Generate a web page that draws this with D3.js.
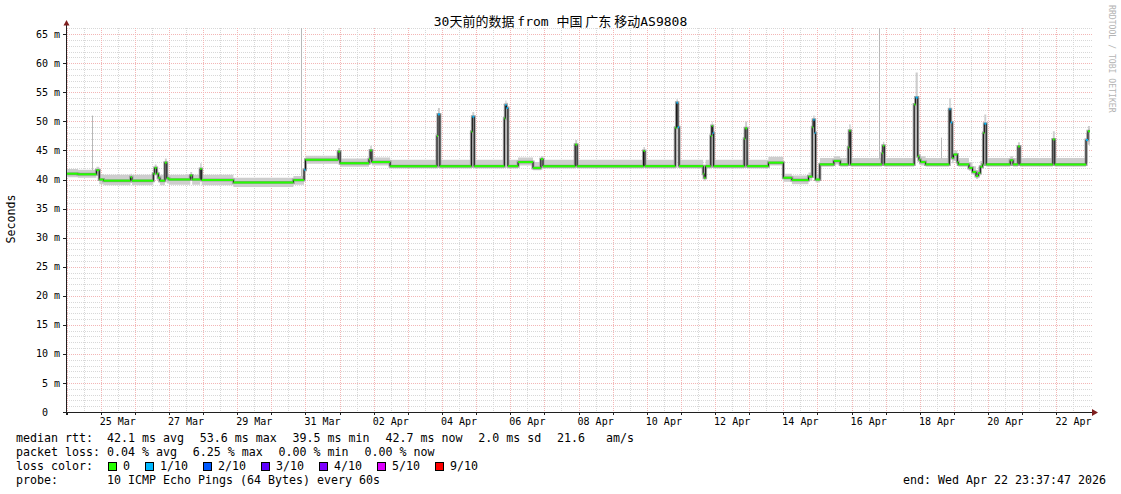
<!DOCTYPE html>
<html>
<head>
<meta charset="utf-8">
<script src="https://cdn.jsdelivr.net/npm/d3@7"></script>
<style>
body { margin: 0; background: #fff; }
text { font-family: "DejaVu Sans Mono", "Noto Sans CJK SC", monospace; white-space: pre; }
</style>
</head>
<body>
<div id="container"></div>
<script>
// --- Data ---
// median rtt rows: [time, median ms, smoke low ms, smoke high ms, lost pings of 10]
var rtt = [
    ["03-23 23:37", 41.0, 40.4, 41.8, 0],
    ["03-24 08:00", 40.9, 40.3, 41.7, 0],
    ["03-24 21:00", 41.6, 40.9, 42.2, 0],
    ["03-24 23:00", 40.0, 39.2, 40.9, 0],
    ["03-25 02:00", 39.8, 39.0, 40.8, 0],
    ["03-25 21:00", 40.4, 39.4, 41.0, 0],
    ["03-25 22:00", 39.8, 39.0, 40.8, 0],
    ["03-26 13:00", 41.0, 40.0, 41.8, 0],
    ["03-26 14:00", 42.0, 41.0, 42.6, 0],
    ["03-26 15:20", 41.0, 40.0, 41.6, 0],
    ["03-26 16:30", 40.3, 39.5, 41.0, 0],
    ["03-26 17:40", 39.8, 39.0, 40.8, 0],
    ["03-26 21:10", 42.9, 40.5, 43.6, 0],
    ["03-26 22:30", 40.2, 39.3, 41.0, 0],
    ["03-27 00:00", 40.0, 39.1, 40.8, 0],
    ["03-27 15:00", 40.7, 39.8, 41.3, 0],
    ["03-27 16:20", 40.0, 39.1, 40.8, 0],
    ["03-27 22:00", 41.8, 40.3, 42.8, 0],
    ["03-27 23:00", 39.9, 39.0, 40.8, 0],
    ["03-28 21:20", 39.5, 38.7, 40.3, 0],
    ["03-30 15:30", 39.9, 39.1, 40.6, 0],
    ["03-30 23:00", 41.7, 40.0, 42.5, 1],
    ["03-31 00:00", 43.4, 42.7, 44.1, 0],
    ["03-31 23:00", 44.8, 43.2, 45.4, 0],
    ["04-01 00:20", 42.8, 42.2, 43.6, 0],
    ["04-01 20:40", 43.5, 42.6, 44.2, 0],
    ["04-01 21:30", 45.0, 43.5, 45.8, 0],
    ["04-01 22:40", 43.0, 42.4, 43.8, 0],
    ["04-02 11:30", 42.3, 41.9, 43.4, 0],
    ["04-03 20:30", 47.5, 42.5, 48.5, 0],
    ["04-03 21:10", 51.2, 47.0, 52.3, 1],
    ["04-03 22:30", 42.3, 41.9, 43.4, 0],
    ["04-04 20:40", 48.2, 43.0, 49.0, 0],
    ["04-04 21:20", 50.8, 47.5, 51.6, 1],
    ["04-04 22:40", 42.3, 41.9, 43.4, 0],
    ["04-05 19:50", 50.5, 44.0, 51.5, 0],
    ["04-05 20:30", 52.8, 50.0, 53.6, 1],
    ["04-05 21:20", 52.3, 46.0, 53.2, 1],
    ["04-05 22:20", 42.3, 41.9, 43.4, 0],
    ["04-06 05:30", 43.0, 42.4, 43.8, 0],
    ["04-06 16:00", 42.0, 41.6, 43.0, 0],
    ["04-06 21:30", 43.5, 42.4, 44.0, 0],
    ["04-06 23:00", 42.3, 41.9, 43.4, 0],
    ["04-07 21:40", 46.0, 42.5, 46.8, 0],
    ["04-07 23:00", 42.3, 41.9, 43.4, 0],
    ["04-09 21:40", 44.9, 42.5, 45.6, 0],
    ["04-09 22:40", 42.3, 41.9, 43.4, 0],
    ["04-10 20:00", 48.9, 43.0, 50.0, 0],
    ["04-10 20:50", 53.2, 50.5, 53.8, 1],
    ["04-10 21:50", 49.0, 45.0, 50.5, 1],
    ["04-10 22:40", 42.3, 41.9, 43.4, 0],
    ["04-11 15:40", 41.0, 40.5, 42.5, 0],
    ["04-11 16:20", 40.3, 39.8, 41.5, 0],
    ["04-11 17:20", 42.3, 41.9, 43.4, 0],
    ["04-11 21:00", 47.5, 42.5, 48.5, 0],
    ["04-11 21:40", 49.2, 47.0, 50.0, 0],
    ["04-11 22:20", 48.0, 44.0, 49.0, 1],
    ["04-11 23:00", 42.3, 41.9, 43.4, 0],
    ["04-12 20:30", 47.0, 42.5, 48.0, 0],
    ["04-12 21:10", 48.8, 46.0, 50.0, 0],
    ["04-12 22:30", 42.3, 41.9, 43.4, 0],
    ["04-13 13:30", 42.9, 42.4, 43.9, 0],
    ["04-14 00:00", 40.3, 39.6, 41.0, 0],
    ["04-14 06:00", 39.9, 39.2, 40.7, 0],
    ["04-14 17:40", 40.5, 39.8, 41.2, 0],
    ["04-14 20:20", 49.0, 41.0, 50.0, 0],
    ["04-14 21:00", 50.3, 48.0, 51.0, 1],
    ["04-14 22:00", 48.0, 44.0, 49.0, 1],
    ["04-14 22:40", 40.0, 39.5, 41.0, 0],
    ["04-15 01:40", 42.6, 42.2, 43.7, 0],
    ["04-15 11:30", 43.2, 42.6, 44.0, 0],
    ["04-15 16:00", 42.6, 42.2, 43.7, 0],
    ["04-15 21:40", 45.5, 42.6, 46.5, 0],
    ["04-15 22:20", 48.4, 45.5, 49.5, 0],
    ["04-15 23:20", 42.6, 42.2, 43.7, 0],
    ["04-16 21:20", 44.5, 42.6, 45.5, 0],
    ["04-16 22:00", 45.8, 44.0, 46.5, 0],
    ["04-16 23:00", 42.6, 42.2, 43.7, 0],
    ["04-17 20:00", 52.9, 43.0, 54.0, 0],
    ["04-17 21:00", 54.1, 52.0, 58.4, 1],
    ["04-17 22:30", 44.0, 43.0, 45.0, 0],
    ["04-17 23:20", 43.4, 42.6, 44.4, 0],
    ["04-18 00:30", 43.0, 42.4, 44.0, 0],
    ["04-18 04:00", 42.6, 42.2, 43.7, 0],
    ["04-18 20:40", 52.1, 43.0, 54.0, 1],
    ["04-18 21:40", 49.8, 46.0, 51.0, 1],
    ["04-18 22:40", 43.7, 42.8, 44.5, 0],
    ["04-18 23:40", 44.3, 43.2, 45.0, 0],
    ["04-19 02:20", 43.0, 42.4, 43.9, 0],
    ["04-19 03:00", 42.6, 42.2, 43.7, 0],
    ["04-19 10:30", 42.0, 41.5, 43.0, 0],
    ["04-19 13:00", 41.3, 40.8, 42.3, 0],
    ["04-19 15:30", 40.6, 40.1, 41.6, 0],
    ["04-19 17:00", 41.1, 40.6, 42.2, 0],
    ["04-19 18:30", 42.2, 41.8, 43.2, 0],
    ["04-19 20:00", 42.6, 42.2, 43.7, 0],
    ["04-19 20:40", 48.0, 42.6, 49.0, 0],
    ["04-19 21:20", 49.6, 47.0, 51.2, 1],
    ["04-19 22:40", 42.6, 42.2, 43.7, 0],
    ["04-20 15:30", 43.3, 42.6, 44.0, 0],
    ["04-20 17:30", 42.6, 42.2, 43.7, 0],
    ["04-20 21:00", 45.7, 42.6, 46.4, 0],
    ["04-20 22:20", 42.6, 42.2, 43.7, 0],
    ["04-21 21:30", 46.9, 42.6, 48.3, 0],
    ["04-21 22:50", 42.6, 42.2, 43.7, 0],
    ["04-22 20:50", 46.8, 43.0, 48.0, 1],
    ["04-22 22:10", 48.3, 46.0, 49.2, 0],
    ["04-22 23:37", 48.3, 46.0, 49.2, 0]
];

// lone smoke outliers: [time, from ms, to ms]
var smokeSpikes = [
    ["03-24 17:50", 41.6, 51.0],
    ["03-30 20:30", 40.5, 70.0],
    ["04-16 19:00", 43.5, 70.0],
    ["04-18 14:50", 43.6, 47.2]
];

var yTicks = [0, 5, 10, 15, 20, 25, 30, 35, 40, 45, 50, 55, 60, 65];

var rttLegend = ["42.1 ms avg", "53.6 ms max", "39.5 ms min", "42.7 ms now", "2.0 ms sd", "21.6   am/s"];
var lossLegend = ["0.04 % avg", "6.25 % max", "0.00 % min", "0.00 % now"];
var lossColors = [
    ["0", "#26ff00"], ["1/10", "#00b8ff"], ["2/10", "#0059ff"], ["3/10", "#5e00ff"],
    ["4/10", "#7e00ff"], ["5/10", "#dd00ff"], ["9/10", "#ff0000"]
];
var probeText = "10 ICMP Echo Pings (64 Bytes) every 60s";
var endText = "end: Wed Apr 22 23:37:47 2026";

// SVG
var svg_width = 1121
var svg_height = 494

var svg = d3.select("#container")
    .append("svg")
    .attr("width", svg_width)
    .attr("height", svg_height)
    .style("display", "block")

var plotLeft = 66, plotRight = 1090, gridRight = 1093, plotTop = 28, plotBottom = 412;

var parseTime = function(s){ return d3.utcParse("%Y-%m-%d %H:%M")("2026-" + s); };
var startTime = parseTime("03-23 23:37");
var endTime = parseTime("04-22 23:37");

var x = d3.scaleUtc().domain([startTime, endTime]).range([plotLeft, plotRight]);
var y = d3.scaleLinear().domain([0, 65]).range([412, 34.2]);

var rows = rtt.map(function(r){
    return {t: parseTime(r[0]), med: r[1], lo: r[2], hi: r[3], loss: r[4]};
});

svg.append("defs").append("clipPath").attr("id", "plotclip")
    .append("rect")
    .attr("x", plotLeft).attr("y", plotTop)
    .attr("width", plotRight - plotLeft).attr("height", plotBottom - plotTop);

// --- Grid ---
var grid = svg.append("g").attr("shape-rendering", "crispEdges");
var minorColor = "#d8d8d8", majorColor = "#f3b6b6";

// horizontal, 1 ms minor and 5 ms major
d3.range(1, 67).forEach(function(v){
    var yy = Math.round(y(v)) + 0.5;
    grid.append("line")
        .attr("x1", 67).attr("x2", gridRight)
        .attr("y1", yy).attr("y2", yy)
        .attr("stroke", v % 5 == 0 ? majorColor : minorColor)
        .attr("stroke-dasharray", "1,1");
});

// vertical, noon minor and midnight major
d3.utcHour.every(12).range(startTime, endTime).forEach(function(t){
    var xx = Math.round(x(t)) + 0.5;
    if (xx < 67) return;
    grid.append("line")
        .attr("x1", xx).attr("x2", xx)
        .attr("y1", plotTop).attr("y2", plotBottom)
        .attr("stroke", t.getUTCHours() == 0 ? majorColor : minorColor)
        .attr("stroke-dasharray", "1,1");
});

// --- Smoke and median ---
var plot = svg.append("g").attr("clip-path", "url(#plotclip)");

plot.append("path")
    .datum(rows)
    .attr("d", d3.area().curve(d3.curveStepAfter)
        .x(function(d){ return x(d.t); })
        .y0(function(d){ return y(d.lo); })
        .y1(function(d){ return y(d.hi); }))
    .attr("fill", "#cdcdcd");

plot.selectAll(".spike")
    .data(smokeSpikes)
    .enter()
    .append("line")
    .attr("x1", function(d){ return Math.round(x(parseTime(d[0]))) + 0.5; })
    .attr("x2", function(d){ return Math.round(x(parseTime(d[0]))) + 0.5; })
    .attr("y1", function(d){ return y(d[1]); })
    .attr("y2", function(d){ return y(d[2]); })
    .attr("stroke", "#b8b8b8")
    .attr("stroke-width", 1);

var medianLine = d3.line().curve(d3.curveStepAfter)
    .x(function(d){ return x(d.t); })
    .y(function(d){ return y(d.med); });

// darker smoke close to the median
plot.append("path")
    .datum(rows)
    .attr("d", medianLine)
    .attr("fill", "none")
    .attr("stroke", "#a0a0a0")
    .attr("stroke-width", 3);

plot.append("path")
    .datum(rows)
    .attr("d", medianLine)
    .attr("fill", "none")
    .attr("stroke", "#111")
    .attr("stroke-width", 1);

// loss coloured median steps
plot.selectAll(".seg")
    .data(rows.slice(0, -1))
    .enter()
    .append("line")
    .attr("x1", function(d){ return x(d.t); })
    .attr("x2", function(d, i){ return x(rows[i + 1].t); })
    .attr("y1", function(d){ return y(d.med); })
    .attr("y2", function(d){ return y(d.med); })
    .attr("stroke", function(d){ return lossColors[d.loss][1]; })
    .attr("stroke-width", 2);

// --- Axes ---
var axes = svg.append("g").attr("shape-rendering", "crispEdges");

axes.append("line")
    .attr("x1", 63).attr("x2", 1093)
    .attr("y1", 412.5).attr("y2", 412.5)
    .attr("stroke", "#202020");
axes.append("line")
    .attr("x1", 66.5).attr("x2", 66.5)
    .attr("y1", 415).attr("y2", 25)
    .attr("stroke", "#202020");

yTicks.forEach(function(v){
    var yy = Math.round(y(v)) + 0.5;
    axes.append("line")
        .attr("x1", 63).attr("x2", 66)
        .attr("y1", yy).attr("y2", yy)
        .attr("stroke", "#202020");
});

d3.utcDay.range(startTime, endTime).forEach(function(t){
    var xx = Math.round(x(t)) + 0.5;
    axes.append("line")
        .attr("x1", xx).attr("x2", xx)
        .attr("y1", 413).attr("y2", 415)
        .attr("stroke", "#202020");
});

svg.append("path")
    .attr("d", "M1092,409L1098,412.5L1092,416Z")
    .attr("fill", "#7f1f1f");
svg.append("path")
    .attr("d", "M63.5,25.5L66.5,20L69.5,25.5Z")
    .attr("fill", "#7f1f1f");

// y labels
svg.selectAll(".ylab")
    .data(yTicks)
    .enter()
    .append("text")
    .attr("x", 60)
    .attr("y", function(d){ return y(d) + 3.6; })
    .attr("text-anchor", "end")
    .style("font-size", "10px")
    .text(function(d){ return d == 0 ? "0  " : d + " m"; });

// x labels, every second day, centred on the day
var dayFormat = d3.utcFormat("%d %b");
d3.utcDay.range(parseTime("03-25 00:00"), endTime, 2).forEach(function(t){
    svg.append("text")
        .attr("x", x(d3.utcHour.offset(t, 12)))
        .attr("y", 425)
        .attr("text-anchor", "middle")
        .style("font-size", "10px")
        .text(dayFormat(t));
});

// --- Titles ---
var title = svg.append("text")
    .attr("x", 560.5)
    .attr("y", 26)
    .attr("text-anchor", "middle")
    .style("font-size", "13px");
title.append("tspan").text("30");
title.append("tspan").style("font-family", '"Noto Sans CJK SC"').text("天前的数据 ");
title.append("tspan").text("from ");
title.append("tspan").style("font-family", '"Noto Sans CJK SC"').text("中国 广东 移动");
title.append("tspan").text("AS9808");

svg.append("text")
    .attr("transform", "translate(14.5,219) rotate(-90)")
    .attr("text-anchor", "middle")
    .style("font-size", "11.63px")
    .text("Seconds");

svg.append("text")
    .attr("transform", "translate(1108.5,5) rotate(90)")
    .style("font-size", "8.15px")
    .attr("fill", "#b4b4b4")
    .text("RRDTOOL / TOBI OETIKER");

// --- Legend ---
var charW = 7, gap = 15.8;
function legendRow(yBase, label, items){
    svg.append("text").attr("x", 16).attr("y", yBase).style("font-size", "11.63px").text(label);
    var cx = 107;
    items.forEach(function(s){
        svg.append("text").attr("x", cx).attr("y", yBase).style("font-size", "11.63px").text(s);
        cx += s.length * charW + gap;
    });
}
legendRow(442, "median rtt:", rttLegend);
legendRow(456, "packet loss:", lossLegend);
legendRow(484, "probe:", [probeText]);

svg.append("text").attr("x", 16).attr("y", 470).style("font-size", "11.63px").text("loss color:");
var sx = 108;
lossColors.forEach(function(c){
    svg.append("rect")
        .attr("x", sx + 0.5).attr("y", 462.5)
        .attr("width", 8).attr("height", 8)
        .attr("fill", c[1])
        .attr("stroke", "#000")
        .attr("shape-rendering", "crispEdges");
    svg.append("text").attr("x", sx + 15).attr("y", 470).style("font-size", "11.63px").text(c[0]);
    sx = sx + 15 + c[0].length * charW + 15;
});

svg.append("text")
    .attr("x", 1106)
    .attr("y", 484)
    .attr("text-anchor", "end")
    .style("font-size", "11.63px")
    .text(endText);
</script>
</body>
</html>
